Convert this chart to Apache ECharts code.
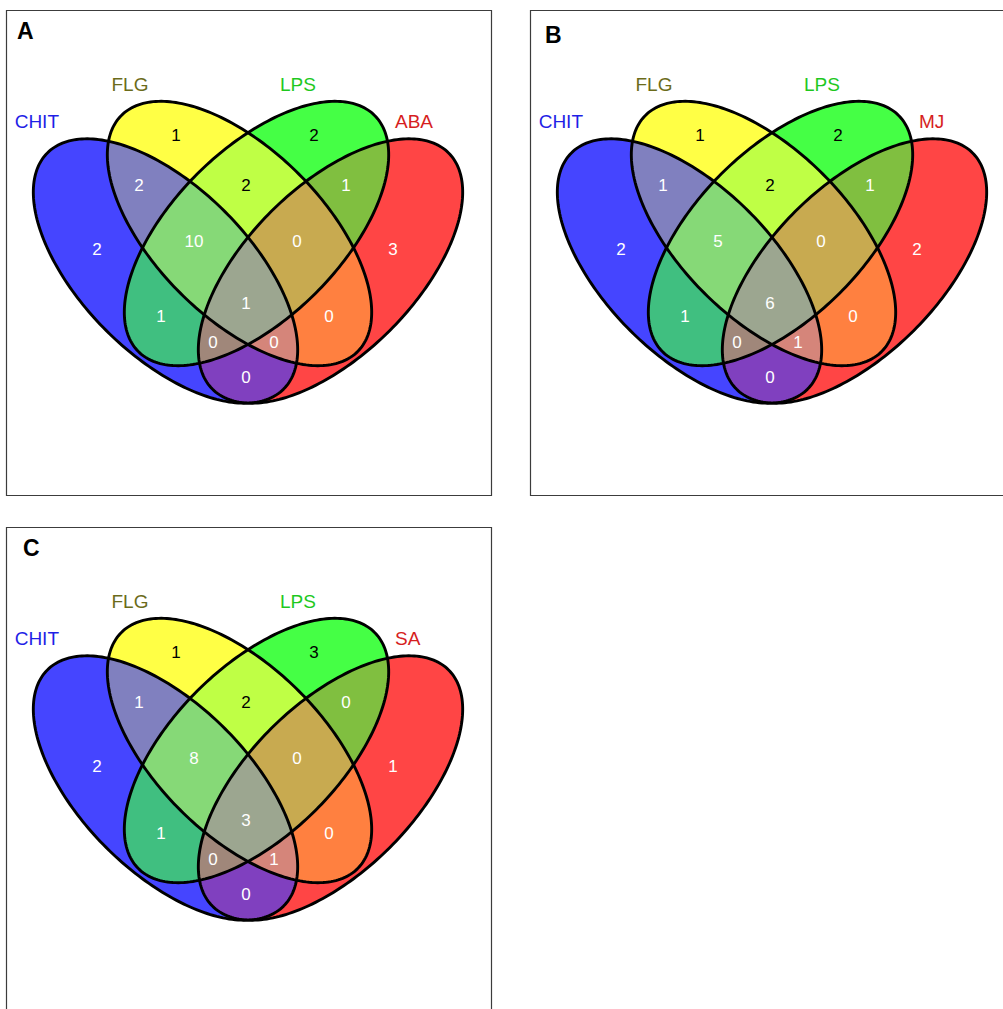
<!DOCTYPE html>
<html>
<head>
<meta charset="utf-8">
<script src="https://cdn.jsdelivr.net/npm/echarts@6/dist/echarts.min.js"></script>
<style>
  html, body { margin: 0; padding: 0; background: #ffffff; }
  #chart { width: 1003px; height: 1009px; }
</style>
</head>
<body>
<div id="chart"></div>
<script>
// ---- data ---------------------------------------------------------------
const panelLetters = ['A', 'B', 'C'];
const setNamesA = ['CHIT', 'FLG', 'LPS', 'ABA'];
const setNamesB = ['CHIT', 'FLG', 'LPS', 'MJ'];
const setNamesC = ['CHIT', 'FLG', 'LPS', 'SA'];

// Venn regions, listed by which of the four sets they belong to
const regionSets = [
  [0], [1], [2], [3],
  [0, 1], [1, 2], [2, 3], [0, 2], [1, 3], [0, 3],
  [0, 1, 2], [1, 2, 3], [0, 1, 3], [0, 2, 3],
  [0, 1, 2, 3]
];
// number of genes in each region (same order as regionSets)
const countsA = [2, 1, 2, 3,  2, 2, 1, 1, 0, 0,  10, 0, 0, 0,  1];
const countsB = [2, 1, 2, 2,  1, 2, 1, 1, 0, 0,  5, 0, 1, 0,  6];
const countsC = [2, 1, 3, 1,  1, 2, 0, 1, 0, 0,  8, 0, 1, 0,  3];

// ---- layout & style -----------------------------------------------------
const PANEL_SIZE = 485;
// visible part of each panel's plotting area (the page cuts B on the right, C at the bottom)
const panelBoxes = [
  { left: 6,   top: 10,  width: 485, height: 485 },
  { left: 530, top: 10,  width: 470, height: 485 },
  { left: 6,   top: 527, width: 485, height: 480 }
];
const letterPos = [[11, 9], [15, 13], [17, 9]];

// ellipses in panel units (x right, y down), rotation in degrees
const ellipses = [
  { cx: 159.5, cy: 261,   a: 167, b: 84, rot: 45 },
  { cx: 233.5, cy: 223.5, a: 167, b: 84, rot: 45 },
  { cx: 250.5, cy: 223.5, a: 167, b: 84, rot: -45 },
  { cx: 324.5, cy: 261,   a: 167, b: 84, rot: -45 }
];

const regionColors = [
  '#4545ff', '#ffff45', '#45ff45', '#ff4545',
  '#8080bf', '#bfff45', '#80bf40', '#40bf80', '#ff8040', '#8040bf',
  '#86d977', '#c8aa50', '#d5857a', '#a0877a',
  '#9ca690'
];
const regionLabelPos = [
  [91, 239], [170, 125], [308, 125], [387, 239],
  [133, 175], [240, 175], [340, 175], [155, 306], [323, 306], [240, 367],
  [188, 231], [291, 231], [268, 332], [207, 332],
  [240, 293]
];
const darkLabelRegions = [1, 2, 5];

const setColors = ['#1f1fe6', '#6b6b1a', '#1ec81e', '#d61e1e'];
const setLabelPos = [[53, 111, 'right'], [124, 74, 'center'], [292, 74, 'center'], [389, 111, 'left']];

const FONT = 'Liberation Sans, Arial, sans-serif';

// ---- geometry helpers ---------------------------------------------------
function ellipsePolygon(e, api) {
  const pts = [];
  const N = 240;
  const r = e.rot * Math.PI / 180;
  for (let i = 0; i < N; i++) {
    const t = 2 * Math.PI * i / N;
    const x = e.cx + e.a * Math.cos(t) * Math.cos(r) - e.b * Math.sin(t) * Math.sin(r);
    const y = e.cy + e.a * Math.cos(t) * Math.sin(r) + e.b * Math.sin(t) * Math.cos(r);
    pts.push(api.coord([x, y]));
  }
  return pts;
}

function cross(ax, ay, bx, by) { return ax * by - ay * bx; }

// intersection of two convex polygons (Sutherland-Hodgman)
function clipConvex(subject, clipPoly) {
  let area = 0;
  for (let i = 0; i < clipPoly.length; i++) {
    const p = clipPoly[i], q = clipPoly[(i + 1) % clipPoly.length];
    area += p[0] * q[1] - q[0] * p[1];
  }
  const s = area >= 0 ? 1 : -1;
  let out = subject;
  for (let i = 0; i < clipPoly.length && out.length; i++) {
    const A = clipPoly[i], B = clipPoly[(i + 1) % clipPoly.length];
    const side = P => s * cross(B[0] - A[0], B[1] - A[1], P[0] - A[0], P[1] - A[1]);
    const input = out;
    out = [];
    for (let j = 0; j < input.length; j++) {
      const P = input[j], Q = input[(j + 1) % input.length];
      const dp = side(P), dq = side(Q);
      if (dp >= 0) out.push(P);
      if ((dp >= 0) !== (dq >= 0)) {
        const t = dp / (dp - dq);
        out.push([P[0] + t * (Q[0] - P[0]), P[1] + t * (Q[1] - P[1])]);
      }
    }
  }
  return out;
}

// ---- chart --------------------------------------------------------------
const allCounts = [countsA, countsB, countsC];
const allSetNames = [setNamesA, setNamesB, setNamesC];

const grids = [], xAxes = [], yAxes = [], series = [], titles = [], frames = [];

panelBoxes.forEach((box, p) => {
  grids.push({ left: box.left, top: box.top, width: box.width, height: box.height, show: false });
  xAxes.push({ type: 'value', gridIndex: p, min: 0, max: box.width, show: false });
  yAxes.push({ type: 'value', gridIndex: p, min: 0, max: box.height, inverse: true, show: false });

  // panel frame (full square, partly off the page for B and C)
  frames.push({
    type: 'rect', silent: true, z: -1,
    shape: { x: box.left + 0.5, y: box.top + 0.5, width: PANEL_SIZE, height: PANEL_SIZE },
    style: { fill: '#ffffff', stroke: '#3c3c3c', lineWidth: 1.2 }
  });

  titles.push({
    text: panelLetters[p],
    left: box.left + letterPos[p][0], top: box.top + letterPos[p][1],
    padding: 0,
    textStyle: { fontFamily: FONT, fontSize: 23, fontWeight: 'bold', color: '#000000' }
  });

  // region fills: drawn from single sets up to the four-way overlap
  series.push({
    type: 'custom', xAxisIndex: p, yAxisIndex: p, silent: true, animation: false,
    clip: false, z: 2,
    data: regionSets.map((_, i) => [i]),
    renderItem: (params, api) => {
      const sets = regionSets[params.dataIndex];
      let poly = ellipsePolygon(ellipses[sets[0]], api);
      for (let k = 1; k < sets.length; k++) {
        poly = clipConvex(poly, ellipsePolygon(ellipses[sets[k]], api));
      }
      return {
        type: 'polygon',
        shape: { points: poly },
        style: { fill: regionColors[params.dataIndex], stroke: regionColors[params.dataIndex], lineWidth: 0.5 }
      };
    }
  });

  // ellipse outlines
  series.push({
    type: 'custom', xAxisIndex: p, yAxisIndex: p, silent: true, animation: false,
    clip: false, z: 3,
    data: ellipses.map((_, i) => [i]),
    renderItem: (params, api) => ({
      type: 'polygon',
      shape: { points: ellipsePolygon(ellipses[params.dataIndex], api) },
      style: { fill: null, stroke: '#000000', lineWidth: 2.9 }
    })
  });

  // counts in each region
  series.push({
    type: 'custom', xAxisIndex: p, yAxisIndex: p, silent: true, animation: false,
    clip: false, z: 4,
    data: allCounts[p].map((c, i) => [regionLabelPos[i][0], regionLabelPos[i][1], c]),
    renderItem: (params, api) => {
      const pt = api.coord([api.value(0), api.value(1)]);
      return {
        type: 'text',
        style: {
          text: String(api.value(2)), x: pt[0], y: pt[1],
          align: 'center', verticalAlign: 'middle',
          font: '17px ' + FONT,
          fill: darkLabelRegions.includes(params.dataIndex) ? '#000000' : '#ffffff'
        }
      };
    }
  });

  // set names
  series.push({
    type: 'custom', xAxisIndex: p, yAxisIndex: p, silent: true, animation: false,
    clip: false, z: 4,
    data: allSetNames[p].map((name, i) => ({ name: name, value: [setLabelPos[i][0], setLabelPos[i][1]] })),
    renderItem: (params, api) => {
      const i = params.dataIndex;
      const pt = api.coord([api.value(0), api.value(1)]);
      return {
        type: 'text',
        style: {
          text: allSetNames[p][i], x: pt[0], y: pt[1],
          align: setLabelPos[i][2], verticalAlign: 'middle',
          font: '19px ' + FONT,
          fill: setColors[i]
        }
      };
    }
  });
});

const chart = echarts.init(document.getElementById('chart'), null, { renderer: 'svg' });
chart.setOption({
  animation: false,
  backgroundColor: '#ffffff',
  graphic: frames,
  title: titles,
  grid: grids,
  xAxis: xAxes,
  yAxis: yAxes,
  series: series
});
</script>
</body>
</html>
